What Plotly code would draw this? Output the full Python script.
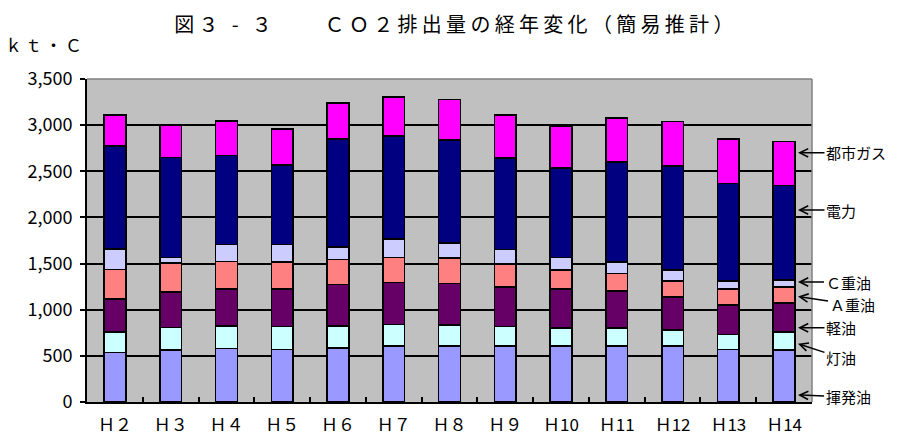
import plotly.graph_objects as go

categories = ["Ｈ２", "Ｈ３", "Ｈ４", "Ｈ５", "Ｈ６", "Ｈ７", "Ｈ８", "Ｈ９", "Ｈ10", "Ｈ11", "Ｈ12", "Ｈ13", "Ｈ14"]

gasoline    = [535, 562, 580, 570, 586, 607, 604, 604, 604, 607, 607, 571, 564]   # 揮発油
kerosene    = [226, 244, 242, 250, 235, 232, 232, 214, 196, 197, 172, 161, 193]   # 灯油
light_oil   = [357, 388, 404, 405, 454, 454, 450, 428, 425, 400, 360, 322, 314]   # 軽油
a_heavy_oil = [317, 310, 297, 295, 270, 275, 274, 250, 208, 190, 171, 171, 172]   # Ａ重油
c_heavy_oil = [223,  61, 184, 185, 132, 199, 162, 158, 131, 125, 123,  85,  81]   # Ｃ重油
electricity = [1119, 1085, 963, 862, 1170, 1116, 1118, 988, 972, 1083, 1122, 1059, 1021]  # 電力
city_gas    = [332, 345, 375, 390, 394, 420, 437, 467, 457, 478, 485, 478, 477]   # 都市ガス

series_names = ["揮発油", "灯油", "軽油", "Ａ重油", "Ｃ重油", "電力", "都市ガス"]
series_values = [gasoline, kerosene, light_oil, a_heavy_oil, c_heavy_oil, electricity, city_gas]
series_colors = ["#9999FF", "#CCFFFF", "#660066", "#FF8080", "#CCCCFF", "#000080", "#FF00FF"]

# right-side label annotations: label, y value pointed at, text offsets (px)
label_texts = ["都市ガス", "電力", "Ｃ重油", "Ａ重油", "軽油", "灯油", "揮発油"]
label_yvals = [2700, 2080, 1300, 1143, 804, 631, 76]
label_dy = [0, 0, 0, 8, 0, 14, 2]
label_dx = [58, 43, 50, 54, 43, 43, 50]

FONT = "Noto Sans CJK JP"

fig = go.Figure()
for name, vals, col in zip(series_names, series_values, series_colors):
    fig.add_trace(go.Bar(
        x=categories, y=vals, name=name,
        marker=dict(color=col, line=dict(color="black", width=1.6)),
        showlegend=False,
    ))

W, H = 899, 439
L, R, T, B = 87, 87, 79, 37
pw, ph = W - L - R, H - T - B

annotations = []
for txt, yv, dy, dx in zip(label_texts, label_yvals, label_dy, label_dx):
    annotations.append(dict(
        xref="paper", x=(798 - L) / pw, yref="y", y=yv,
        text=txt, showarrow=True, ax=dx, ay=dy,
        arrowhead=5, arrowsize=1.1, arrowwidth=1.5, arrowcolor="black",
        font=dict(family=FONT, size=15, color="black"),
    ))
annotations.append(dict(
    xref="paper", yref="paper", x=(3 - L) / pw, y=(H - B - 45) / ph,
    xanchor="left", yanchor="middle", showarrow=False,
    text='<span style="letter-spacing:3px">ｋｔ・Ｃ</span>',
    font=dict(family=FONT, size=17, color="black"),
))

fig.update_layout(
    width=W, height=H,
    margin=dict(l=L, r=R, t=T, b=B, autoexpand=False),
    paper_bgcolor="white", plot_bgcolor="#C0C0C0",
    barmode="stack", bargap=0.61,
    font=dict(family=FONT, color="black"),
    title=dict(text='<span style="letter-spacing:4.3px">図３ - ３　　ＣＯ２排出量の経年変化（簡易推計）</span>',
               x=456 / W, xanchor="center", y=1 - 25 / H, yanchor="middle",
               font=dict(family=FONT, size=20, color="black")),
    annotations=annotations,
    shapes=[
        dict(type="line", xref="paper", yref="paper", x0=0, x1=1, y0=1, y1=1,
             line=dict(color="#808080", width=1.5)),
        dict(type="line", xref="paper", yref="paper", x0=1, x1=1, y0=0, y1=1,
             line=dict(color="#808080", width=1.5)),
    ],
)
fig.update_yaxes(
    range=[0, 3500], dtick=500, tickformat=",", showgrid=True,
    gridcolor="black", gridwidth=1.5, zeroline=False,
    showline=True, linecolor="black", linewidth=2,
    ticks="outside", ticklen=5, tickcolor="black", tickwidth=1.5,
    tickfont=dict(family=FONT, size=18, color="black"),
    ticklabelstandoff=4, automargin=False,
)
fig.update_xaxes(
    showgrid=False, showline=True, linecolor="black", linewidth=2,
    ticks="inside", tickson="boundaries", ticklen=5, tickcolor="black", tickwidth=1.5,
    tickfont=dict(family=FONT, size=17, color="black"),
    ticklabelstandoff=7, automargin=False,
)

fig.write_html("out.html", config={"displayModeBar": False},
               post_script="document.body.style.margin='0';")
